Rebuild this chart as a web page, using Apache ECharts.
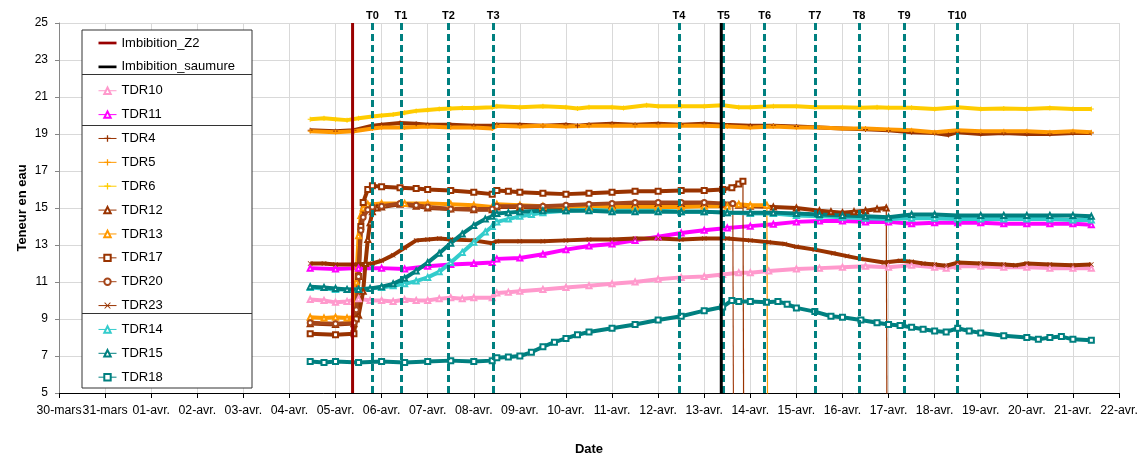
<!DOCTYPE html>
<html><head><meta charset="utf-8">
<script src="https://cdn.jsdelivr.net/npm/echarts@6/dist/echarts.min.js"></script>
<style>html,body{margin:0;padding:0;background:#fff}#c{width:1145px;height:455px}</style>
</head><body><div id="c"></div><script>
// x values are days counted from 30-mars 00:00
const xTickLabels = ['30-mars','31-mars','01-avr.','02-avr.','03-avr.','04-avr.','05-avr.','06-avr.','07-avr.','08-avr.','09-avr.','10-avr.','11-avr.','12-avr.','13-avr.','14-avr.','15-avr.','16-avr.','17-avr.','18-avr.','19-avr.','20-avr.','21-avr.','22-avr.'];
const yMin = 5, yMax = 25;
const imbZ2Day = 6.37;
const imbSaumureDay = 14.37;
const tNames = ['T0','T1','T2','T3','T4','T5','T6','T7','T8','T9','T10'];
const tDays = [6.80, 7.42, 8.45, 9.42, 13.45, 14.42, 15.31, 16.40, 17.36, 18.34, 19.49];

const tdr10 = [[5.45,10.05],[5.75,10.0],[6.0,9.9],[6.25,9.95],[6.5,10.1],[6.75,10.0],[7.0,10.0],[7.25,9.95],[7.5,10.05],[7.75,10.0],[8.0,10.0],[8.25,10.1],[8.5,10.15],[8.75,10.1],[9.0,10.15],[9.4,10.15],[9.5,10.4],[9.75,10.45],[10.0,10.5],[10.5,10.6],[11.0,10.7],[11.5,10.8],[12.0,10.9],[12.5,11.0],[13.0,11.15],[13.5,11.25],[14.0,11.3],[14.4,11.4],[14.75,11.5],[15.0,11.5],[15.4,11.6],[16.0,11.7],[16.5,11.75],[17.0,11.8],[17.5,11.85],[18.0,11.8],[18.5,11.9],[19.0,11.8],[19.25,11.75],[19.5,11.85],[20.0,11.85],[20.5,11.8],[21.0,11.8],[21.5,11.75],[22.0,11.75],[22.4,11.75]];
const tdr11 = [[5.45,11.75],[6.0,11.7],[6.5,11.75],[7.0,11.75],[7.5,11.7],[8.0,11.85],[8.5,11.95],[9.0,12.0],[9.4,12.05],[9.5,12.25],[10.0,12.3],[10.5,12.5],[11.0,12.75],[11.5,12.95],[12.0,13.05],[12.5,13.25],[13.0,13.45],[13.5,13.65],[14.0,13.8],[14.5,13.92],[15.0,14.02],[15.5,14.12],[16.0,14.25],[16.5,14.3],[17.0,14.3],[17.5,14.25],[18.0,14.25],[18.5,14.15],[19.0,14.2],[19.5,14.2],[20.0,14.2],[20.5,14.15],[21.0,14.15],[21.5,14.15],[22.0,14.15],[22.4,14.1]];
const tdr4 = [[5.45,19.2],[6.0,19.15],[6.4,19.2],[6.8,19.45],[7.0,19.5],[7.4,19.6],[7.75,19.55],[8.0,19.5],[8.5,19.5],[9.0,19.45],[9.4,19.45],[9.5,19.5],[10.0,19.5],[10.5,19.45],[11.0,19.5],[11.25,19.45],[11.5,19.5],[12.0,19.55],[12.5,19.5],[13.0,19.55],[13.5,19.5],[14.0,19.55],[14.4,19.5],[15.0,19.45],[15.5,19.45],[16.0,19.4],[16.5,19.35],[17.0,19.3],[17.5,19.25],[18.0,19.2],[18.5,19.1],[19.0,19.05],[19.3,18.95],[19.5,19.1],[20.0,19.0],[20.5,19.05],[21.0,19.0],[21.5,19.0],[22.0,19.05],[22.4,19.05]];
const tdr5 = [[5.45,19.15],[6.0,19.1],[6.4,19.15],[6.8,19.3],[7.0,19.35],[7.5,19.35],[8.0,19.4],[8.5,19.35],[9.0,19.35],[9.4,19.3],[9.5,19.45],[10.0,19.4],[10.5,19.45],[11.0,19.4],[11.5,19.45],[12.0,19.45],[12.5,19.45],[13.0,19.45],[13.5,19.45],[14.0,19.45],[14.5,19.4],[15.0,19.35],[15.5,19.4],[16.0,19.35],[16.5,19.35],[17.0,19.3],[17.5,19.3],[18.0,19.25],[18.5,19.2],[19.0,19.1],[19.5,19.2],[20.0,19.15],[20.5,19.15],[21.0,19.15],[21.5,19.1],[22.0,19.15],[22.4,19.1]];
const tdr6 = [[5.45,19.8],[5.75,19.85],[6.0,19.8],[6.25,19.75],[6.5,19.85],[6.8,19.95],[7.0,20.0],[7.25,20.05],[7.5,20.15],[7.75,20.25],[8.0,20.3],[8.25,20.35],[8.5,20.38],[8.75,20.4],[9.0,20.4],[9.4,20.45],[9.5,20.5],[10.0,20.45],[10.5,20.5],[11.0,20.45],[11.25,20.38],[11.5,20.45],[12.0,20.45],[12.25,20.4],[12.75,20.55],[13.0,20.5],[13.5,20.5],[14.0,20.5],[14.4,20.55],[14.75,20.45],[15.0,20.45],[15.5,20.5],[16.0,20.5],[16.4,20.45],[17.0,20.45],[17.4,20.42],[17.75,20.45],[18.0,20.42],[18.5,20.42],[19.0,20.35],[19.5,20.45],[20.0,20.35],[20.5,20.38],[21.0,20.35],[21.5,20.4],[22.0,20.35],[22.4,20.35]];
// last pair of the next four series is the sensor failure (value falls to 0)
const tdr12 = [[5.45,8.75],[6.0,8.7],[6.4,8.75],[6.5,9.2],[6.6,10.5],[6.65,12.0],[6.7,13.3],[6.75,14.2],[6.8,14.8],[6.9,15.0],[7.0,15.05],[7.4,15.2],[7.75,15.1],[8.0,15.0],[8.5,14.95],[9.0,14.9],[9.4,14.9],[9.5,15.05],[10.0,15.05],[10.5,15.0],[11.0,15.05],[11.5,15.1],[12.0,15.15],[12.5,15.2],[13.0,15.25],[13.5,15.25],[14.0,15.25],[14.4,15.2],[14.75,15.15],[15.0,15.1],[15.5,15.05],[16.0,15.0],[16.5,14.85],[16.75,14.8],[17.0,14.75],[17.25,14.8],[17.5,14.85],[17.75,14.95],[17.95,15.0],[17.97,0]];
const tdr13 = [[5.45,9.1],[5.75,9.05],[6.0,9.1],[6.25,9.05],[6.38,9.1],[6.45,11.0],[6.5,13.5],[6.55,14.6],[6.6,15.0],[6.7,15.2],[6.8,15.2],[7.0,15.25],[7.5,15.25],[8.0,15.25],[8.5,15.2],[9.0,15.15],[9.4,15.05],[9.5,15.2],[10.0,15.15],[10.5,15.1],[11.0,15.1],[11.5,15.05],[12.0,15.05],[12.5,15.05],[13.0,15.05],[13.5,15.05],[14.0,15.1],[14.5,15.1],[14.75,15.2],[15.0,15.15],[15.36,15.15],[15.38,0]];
const tdr17 = [[5.45,8.2],[6.0,8.15],[6.4,8.2],[6.45,9.0],[6.5,11.3],[6.55,14.0],[6.6,15.3],[6.7,16.0],[6.8,16.2],[7.0,16.15],[7.4,16.1],[7.75,16.05],[8.0,16.0],[8.5,15.95],[9.0,15.85],[9.4,15.75],[9.5,15.95],[9.75,15.9],[10.0,15.85],[10.5,15.8],[11.0,15.75],[11.5,15.8],[12.0,15.85],[12.5,15.9],[13.0,15.9],[13.5,15.95],[14.0,15.95],[14.4,16.0],[14.6,16.1],[14.75,16.3],[14.84,16.45],[14.86,0]];
const tdr20 = [[5.45,8.8],[6.0,8.75],[6.4,8.8],[6.45,9.5],[6.5,11.3],[6.55,13.8],[6.6,14.5],[6.7,14.9],[6.8,15.05],[7.0,15.1],[7.4,15.25],[7.75,15.15],[8.0,15.05],[8.5,14.95],[9.0,14.95],[9.4,14.95],[9.5,15.1],[10.0,15.1],[10.5,15.1],[11.0,15.15],[11.5,15.2],[12.0,15.25],[12.5,15.3],[13.0,15.3],[13.5,15.3],[14.0,15.3],[14.4,15.25],[14.62,15.25],[14.64,0]];
const tdr23 = [[5.45,12.0],[5.75,12.0],[6.0,11.95],[6.4,11.95],[6.8,12.0],[7.0,12.15],[7.25,12.45],[7.5,12.85],[7.75,13.25],[8.0,13.3],[8.25,13.35],[8.5,13.3],[9.0,13.25],[9.4,13.1],[9.5,13.2],[10.0,13.2],[10.5,13.2],[11.0,13.25],[11.5,13.3],[12.0,13.3],[12.5,13.35],[13.0,13.35],[13.5,13.3],[14.0,13.35],[14.5,13.35],[15.0,13.25],[15.4,13.15],[15.75,13.05],[16.0,12.9],[16.4,12.75],[16.8,12.55],[17.1,12.4],[17.4,12.25],[17.9,12.05],[18.25,12.15],[18.5,12.1],[18.75,12.0],[19.0,11.95],[19.25,11.88],[19.5,12.05],[20.0,12.0],[20.5,11.95],[20.75,11.9],[21.0,12.0],[21.5,11.95],[22.0,11.9],[22.4,11.95]];
const tdr14 = [[5.45,10.7],[6.0,10.6],[6.5,10.6],[7.0,10.7],[7.25,10.8],[7.5,10.9],[7.75,11.05],[8.0,11.25],[8.25,11.55],[8.5,12.05],[8.75,12.6],[9.0,13.15],[9.25,13.7],[9.4,14.0],[9.5,14.25],[9.75,14.4],[10.0,14.55],[10.25,14.65],[10.5,14.75],[11.0,14.85],[11.5,14.9],[12.0,14.85],[12.5,14.85],[13.0,14.85],[13.5,14.8],[14.0,14.8],[14.5,14.75],[15.0,14.7],[15.5,14.7],[16.0,14.6],[16.5,14.55],[17.0,14.5],[17.5,14.45],[18.0,14.4],[18.5,14.45],[19.0,14.45],[19.5,14.4],[20.0,14.4],[20.5,14.4],[21.0,14.4],[21.5,14.4],[22.0,14.35],[22.4,14.35]];
const tdr15 = [[5.45,10.75],[5.75,10.7],[6.0,10.65],[6.25,10.6],[6.5,10.6],[6.75,10.65],[7.0,10.75],[7.25,10.9],[7.5,11.2],[7.75,11.6],[8.0,12.05],[8.25,12.55],[8.5,13.1],[8.75,13.6],[9.0,14.05],[9.25,14.4],[9.4,14.55],[9.5,14.7],[9.75,14.75],[10.0,14.8],[10.5,14.85],[11.0,14.85],[11.5,14.85],[12.0,14.8],[12.5,14.8],[13.0,14.8],[13.5,14.8],[14.0,14.8],[14.5,14.75],[15.0,14.75],[15.5,14.75],[16.0,14.7],[16.5,14.65],[17.0,14.6],[17.5,14.55],[18.0,14.5],[18.5,14.65],[19.0,14.65],[19.5,14.6],[20.0,14.6],[20.5,14.6],[21.0,14.6],[21.5,14.6],[22.0,14.6],[22.4,14.55]];
const tdr18 = [[5.45,6.7],[5.75,6.65],[6.0,6.7],[6.5,6.65],[7.0,6.7],[7.5,6.65],[8.0,6.7],[8.5,6.75],[9.0,6.7],[9.4,6.75],[9.5,6.9],[9.75,6.95],[10.0,7.0],[10.25,7.2],[10.5,7.5],[10.75,7.75],[11.0,7.95],[11.25,8.15],[11.5,8.3],[12.0,8.5],[12.5,8.7],[13.0,8.95],[13.5,9.15],[14.0,9.45],[14.4,9.65],[14.6,10.0],[14.75,9.95],[15.0,9.95],[15.35,9.9],[15.6,9.95],[15.8,9.8],[16.0,9.6],[16.4,9.4],[16.75,9.15],[17.0,9.1],[17.4,8.95],[17.75,8.8],[18.0,8.7],[18.25,8.65],[18.5,8.55],[18.75,8.45],[19.0,8.35],[19.25,8.3],[19.5,8.5],[19.75,8.35],[20.0,8.25],[20.5,8.1],[21.0,8.0],[21.25,7.9],[21.5,8.0],[21.75,8.05],[22.0,7.9],[22.4,7.85]];

const plusPath = 'path://M4,0H6V4H10V6H6V10H4V6H0V4H4Z';
const crossPath = 'path://M1,0L5,4L9,0L10,1L6,5L10,9L9,10L5,6L1,10L0,9L4,5L0,1Z';
const barPath = 'path://M0,0H20V3H0Z';

const tdrSeries = [
  {name:'TDR10', data:tdr10, color:'#FF99CC', symbol:'emptyTriangle'},
  {name:'TDR11', data:tdr11, color:'#FF00FF', symbol:'emptyTriangle'},
  {name:'TDR4',  data:tdr4,  color:'#993300', symbol:plusPath},
  {name:'TDR5',  data:tdr5,  color:'#FF9900', symbol:plusPath},
  {name:'TDR6',  data:tdr6,  color:'#FFCC00', symbol:plusPath},
  {name:'TDR12', data:tdr12, color:'#993300', symbol:'emptyTriangle', fails:true},
  {name:'TDR13', data:tdr13, color:'#FF9900', symbol:'emptyTriangle', fails:true},
  {name:'TDR17', data:tdr17, color:'#993300', symbol:'emptyRect', fails:true},
  {name:'TDR20', data:tdr20, color:'#A5461A', symbol:'emptyCircle', fails:true},
  {name:'TDR23', data:tdr23, color:'#993300', symbol:crossPath},
  {name:'TDR14', data:tdr14, color:'#33CCCC', symbol:'emptyTriangle'},
  {name:'TDR15', data:tdr15, color:'#008080', symbol:'emptyTriangle'},
  {name:'TDR18', data:tdr18, color:'#008080', symbol:'emptyRect'}
];

const series = [];
tdrSeries.forEach(s => {
  const main = s.fails ? s.data.slice(0, -1) : s.data;
  series.push({
    name: s.name, type: 'line', data: main, z: 2,
    symbol: s.symbol, symbolSize: 5, showSymbol: true, showAllSymbol: true,
    itemStyle: {color: s.color, borderWidth: 1},
    lineStyle: {color: s.color, width: 4},
    animation: false
  });
  if (s.fails) {
    series.push({
      name: s.name + '_drop', type: 'line', data: s.data.slice(-2), z: 2,
      symbol: 'none', lineStyle: {color: s.color, width: 1.2}, legendHoverLink:false
    });
  }
});
series.push({
  name:'Imbibition_Z2', type:'line', symbol:'none', z:5,
  data:[[imbZ2Day,yMin],[imbZ2Day,yMax]],
  itemStyle:{color:'#990000'}, lineStyle:{color:'#990000', width:3}
});
series.push({
  name:'Imbibition_saumure', type:'line', symbol:'none', z:5,
  data:[[imbSaumureDay,yMin],[imbSaumureDay,yMax]],
  itemStyle:{color:'#000000'}, lineStyle:{color:'#000000', width:3}
});
series.push({
  name:'marks', type:'line', data:[], z:6,
  markLine:{
    silent:true, symbol:['none','none'], animation:false,
    lineStyle:{color:'#008080', width:3, type:[7,4]},
    label:{show:true, position:'end', formatter:'{b}', fontFamily:'Liberation Sans', fontWeight:'bold', fontSize:11, color:'#000', distance:2},
    data: tDays.map((d,i)=>({name:tNames[i], xAxis:d}))
  }
});

const legendNames = ['Imbibition_Z2','Imbibition_saumure','TDR10','TDR11','TDR4','TDR5','TDR6','TDR12','TDR13','TDR17','TDR20','TDR23','TDR14','TDR15','TDR18'];

const chart = echarts.init(document.getElementById('c'), null, {renderer:'canvas'});
chart.setOption({
  animation:false,
  backgroundColor:'#fff',
  textStyle:{fontFamily:'Liberation Sans'},
  grid:{left:59, right:26, top:23, bottom:62, containLabel:false, outerBoundsMode:'none'},
  xAxis:{
    type:'value', min:0, max:23, interval:1,
    name:'Date', nameLocation:'middle', nameGap:50,
    nameTextStyle:{fontWeight:'bold', fontSize:13, color:'#000', fontFamily:'Liberation Sans'},
    axisLine:{lineStyle:{color:'#000', width:1}},
    axisTick:{show:true, length:5, inside:false, lineStyle:{color:'#000'}},
    axisLabel:{margin:12, fontSize:12.3, color:'#000', fontFamily:'Liberation Sans', hideOverlap:false,
      formatter:(v)=>xTickLabels[Math.round(v)] || ''},
    splitLine:{show:true, lineStyle:{color:'#D9D9D9', width:1}}
  },
  yAxis:{
    type:'value', min:yMin, max:yMax, interval:2,
    name:'Teneur en eau', nameLocation:'middle', nameGap:30, nameRotate:90, nameMoveOverlap:false,
    nameTextStyle:{fontWeight:'bold', fontSize:13, color:'#000', fontFamily:'Liberation Sans'},
    axisLine:{show:true, lineStyle:{color:'#868686', width:1}},
    axisTick:{show:true, length:4, inside:false, lineStyle:{color:'#868686'}},
    axisLabel:{margin:11, fontSize:12, color:'#000', fontFamily:'Liberation Sans'},
    splitLine:{show:true, lineStyle:{color:'#D9D9D9', width:1}}
  },
  legend:{
    show:true, orient:'vertical', left:98, top:36.5, padding:0,
    itemWidth:18, itemHeight:8, itemGap:10.87,
    textStyle:{fontSize:13, color:'#000', fontFamily:'Liberation Sans'},
    z:6,
    data: legendNames.map(n => (n.startsWith('Imb') ? {name:n, icon:barPath} : {name:n, lineStyle:{width:1}}))
  },
  graphic:[
    {type:'rect', z:5, shape:{x:82, y:30, width:170, height:358}, style:{fill:'#fff', stroke:'#333', lineWidth:1}},
    {type:'line', z:5, shape:{x1:82, y1:74.5, x2:252, y2:74.5}, style:{stroke:'#333', lineWidth:1}},
    {type:'line', z:5, shape:{x1:82, y1:125.5, x2:252, y2:125.5}, style:{stroke:'#333', lineWidth:1}},
    {type:'line', z:5, shape:{x1:82, y1:313.5, x2:252, y2:313.5}, style:{stroke:'#333', lineWidth:1}}
  ],
  series: series
});
</script></body></html>
